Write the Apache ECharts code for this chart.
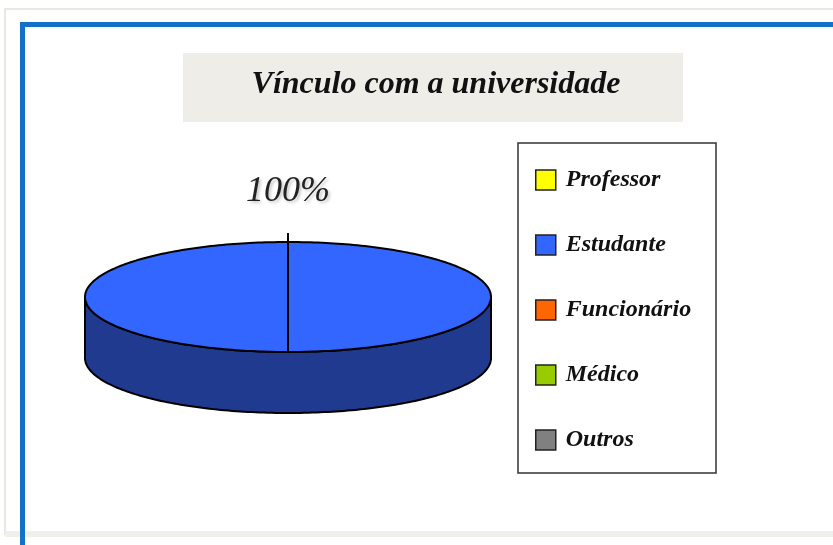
<!DOCTYPE html>
<html>
<head>
<meta charset="utf-8">
<script src="https://cdn.jsdelivr.net/npm/echarts@6/dist/echarts.min.js"></script>
<style>
html,body{margin:0;padding:0;background:#fff;}
#chart{width:833px;height:545px;}
</style>
</head>
<body>
<div id="chart"></div>
<script>
// ---- data ----
const chartTitle = 'Vínculo com a universidade';
const categories = ['Professor', 'Estudante', 'Funcionário', 'Médico', 'Outros'];
const values = [0, 100, 0, 0, 0];
const topColors = ['#ffff00', '#3366ff', '#ff6600', '#99cc00', '#808080'];
const sideColors = ['#999900', '#1f3a8e', '#993d00', '#5c7a00', '#4d4d4d'];

// ---- 3D pie layout ----
const CX = 288, CY = 297, RX = 203, RY = 55, DEPTH = 61;
const FIRST_ANGLE = Math.PI; // first slice edge at the front
const TAU = Math.PI * 2;

function rimPoint(a, dy) {
  return [CX + RX * Math.sin(a), CY - RY * Math.cos(a) + (dy || 0)];
}
function arcPoints(a0, a1, dy) {
  const pts = [];
  const n = Math.max(2, Math.ceil(Math.abs(a1 - a0) / 0.02));
  for (let k = 0; k <= n; k++) pts.push(rimPoint(a0 + (a1 - a0) * k / n, dy));
  return pts;
}

function makeRender(i) {
  return function (params, api) {
    const v = api.value(0);
    const total = values.reduce((s, x) => s + x, 0);
    if (!v || !total) return null;
    const before = values.slice(0, i).reduce((s, x) => s + x, 0);
    const a0 = FIRST_ANGLE + before / total * TAU;
    const a1 = FIRST_ANGLE + (before + v) / total * TAU;
    const children = [];
    // visible side walls: front half, angles in [PI/2, 3PI/2] (mod 2PI)
    let ivs = [];
    for (let k = -1; k <= 2; k++) {
      const lo = Math.max(a0, Math.PI / 2 + k * TAU);
      const hi = Math.min(a1, 3 * Math.PI / 2 + k * TAU);
      if (hi > lo) ivs.push([lo - k * TAU, hi - k * TAU]);
    }
    ivs.sort((p, q) => p[0] - q[0]);
    const merged = [];
    ivs.forEach(iv => {
      const last = merged[merged.length - 1];
      if (last && iv[0] <= last[1] + 1e-9) last[1] = Math.max(last[1], iv[1]);
      else merged.push(iv.slice());
    });
    merged.forEach(([lo, hi]) => {
      const pts = arcPoints(lo, hi, 0).concat(arcPoints(hi, lo, DEPTH));
      children.push({
        type: 'polygon',
        shape: { points: pts },
        style: { fill: sideColors[i], stroke: '#000', lineWidth: 2, lineJoin: 'round' }
      });
    });
    // top face
    const full = (v / total) >= 0.9999;
    const topPts = [[CX, CY]].concat(arcPoints(a0, a1, 0));
    children.push({
      type: 'polygon',
      shape: { points: topPts },
      style: { fill: topColors[i], stroke: '#000', lineWidth: 2, lineJoin: 'round' }
    });
    // label + leader line
    const mid = (a0 + a1) / 2;
    const rim = rimPoint(mid, 0);
    const pct = Math.round(v / total * 100) + '%';
    const target = full ? [CX, CY] : [(CX + rim[0]) / 2, (CY + rim[1]) / 2];
    const dirY = -Math.cos(mid);
    const labY = rim[1] + (dirY < 0 ? -50 : 50 + DEPTH);
    const labX = rim[0] + Math.sin(mid) * 40;
    children.push({
      type: 'line',
      shape: { x1: labX, y1: labY + (dirY < 0 ? 41 : -20), x2: target[0], y2: target[1] },
      style: { stroke: '#000', lineWidth: 2 }
    });
    children.push({
      type: 'text',
      x: labX, y: labY,
      style: {
        text: pct,
        fontFamily: 'Liberation Serif',
        fontStyle: 'italic',
        fontSize: 36,
        fill: '#222',
        align: 'center',
        verticalAlign: 'middle',
        textShadowColor: 'rgba(0,0,0,0.22)',
        textShadowBlur: 3,
        textShadowOffsetX: 2,
        textShadowOffsetY: 2
      }
    });
    return { type: 'group', children: children };
  };
}

const series = categories.map((name, i) => ({
  type: 'custom',
  name: name,
  coordinateSystem: 'none',
  data: [[values[i]]],
  itemStyle: { color: topColors[i] },
  renderItem: makeRender(i),
  silent: true
}));

const chart = echarts.init(document.getElementById('chart'));
chart.setOption({
  animation: false,
  backgroundColor: '#ffffff',
  graphic: [
    // faint outer frame
    { type: 'rect', shape: { x: 5, y: 9, width: 840, height: 525 }, style: { fill: 'none', stroke: '#ebe8e3', lineWidth: 2 }, z: 0 },
    { type: 'rect', shape: { x: 5, y: 531, width: 828, height: 6 }, style: { fill: '#efefeb' }, z: 0 },
    // blue frame
    { type: 'rect', shape: { x: 20, y: 22, width: 813, height: 5 }, style: { fill: '#1570c8' }, z: 1 },
    { type: 'rect', shape: { x: 20, y: 22, width: 5, height: 523 }, style: { fill: '#1570c8' }, z: 1 },
    // title box
    { type: 'rect', shape: { x: 183, y: 53, width: 500, height: 69 }, style: { fill: '#efede8' }, z: 1 },
    // legend box
    { type: 'rect', shape: { x: 518, y: 143, width: 198, height: 330 }, style: { fill: '#fff', stroke: '#333', lineWidth: 1.5 }, z: 1 }
  ],
  title: {
    text: chartTitle,
    left: 436,
    top: 68,
    textAlign: 'center',
    padding: 0,
    textStyle: {
      fontFamily: 'Liberation Serif',
      fontStyle: 'italic',
      fontWeight: 'bold',
      fontSize: 32,
      lineHeight: 33,
      color: '#111'
    }
  },
  legend: {
    orient: 'vertical',
    left: 535,
    top: 168,
    padding: 0,
    itemWidth: 20,
    itemHeight: 20,
    itemGap: 41,
    icon: 'rect',
    selectedMode: false,
    data: categories,
    itemStyle: { borderColor: '#222', borderWidth: 1.5 },
    textStyle: {
      fontFamily: 'Liberation Serif',
      fontStyle: 'italic',
      fontWeight: 'bold',
      fontSize: 24,
      lineHeight: 24,
      color: '#111',
      padding: [0, 0, 0, 5]
    }
  },
  series: series
});
</script>
</body>
</html>
